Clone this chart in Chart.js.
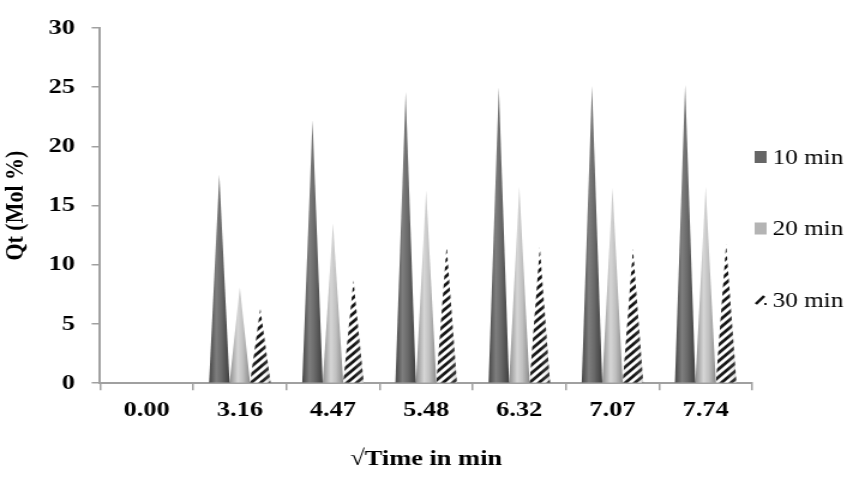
<!DOCTYPE html>
<html>
<head>
<meta charset="utf-8">
<script src="https://cdn.jsdelivr.net/npm/chart.js@4/dist/chart.umd.min.js"></script>
<style>
  html, body { margin: 0; padding: 0; background: #fff; overflow: hidden; }
  /* the original picture is stretched sideways, so the chart is drawn narrow and widened */
  #wrap { width: 711px; height: 485px; transform: scaleX(1.19972); transform-origin: 0 0; }
</style>
</head>
<body>
<div id="wrap"><canvas id="qtChart"></canvas></div>
<script>
"use strict";

// data
const categories = ['0.00', '3.16', '4.47', '5.48', '6.32', '7.07', '7.74'];
const seriesNames = ['10 min', '20 min', '30 min'];
const qt10 = [0, 17.6, 22.2, 24.6, 25.0, 25.1, 25.2];
const qt20 = [0, 8.1, 13.5, 16.3, 16.6, 16.5, 16.6];
const qt30 = [0, 6.3, 8.7, 11.6, 11.5, 11.4, 11.8];
const yTicks = [0, 5, 10, 15, 20, 25, 30];

const serif = "'Liberation Serif', 'Times New Roman', serif";

// diagonal hatch used by the 30 min series
function makeHatch() {
    let c = document.createElement('canvas');
    c.width = 8; c.height = 8;
    let g = c.getContext('2d');
    g.fillStyle = '#fff';
    g.fillRect(0, 0, 8, 8);
    g.strokeStyle = '#111';
    g.lineWidth = 2.8;
    g.beginPath();
    g.moveTo(-2, 10); g.lineTo(10, -2);
    g.moveTo(-2, 2); g.lineTo(2, -2);
    g.moveTo(6, 10); g.lineTo(10, 6);
    g.stroke();
    return g.createPattern(c, 'repeat');
}
const hatch = makeHatch();

// horizontal shading stops for each cone kind
const shades = [
    [[0, '#454545'], [0.35, '#7e7e7e'], [0.6, '#6a6a6a'], [1, '#3e3e3e']],
    [[0, '#8e8e8e'], [0.4, '#d6d6d6'], [0.65, '#c0c0c0'], [1, '#8a8a8a']],
    null
];

// draw each bar as a cone (triangle) instead of a rectangle
const conePlugin = {
    id: 'cones',
    beforeDatasetDraw(chart, args) {
        const ctx = chart.ctx;
        const idx = args.index;
        args.meta.data.forEach(el => {
            const p = el.getProps(['x', 'y', 'base', 'width'], true);
            if (Math.abs(p.base - p.y) < 0.5) return;
            const l = p.x - p.width / 2, r = p.x + p.width / 2;
            ctx.save();
            ctx.beginPath();
            ctx.moveTo(l, p.base);
            ctx.lineTo(p.x, p.y);
            ctx.lineTo(r, p.base);
            ctx.closePath();
            if (shades[idx]) {
                let grad = ctx.createLinearGradient(l, 0, r, 0);
                shades[idx].forEach(s => grad.addColorStop(s[0], s[1]));
                ctx.fillStyle = grad;
                ctx.fill();
            } else {
                ctx.fillStyle = hatch;
                ctx.fill();
                let grad = ctx.createLinearGradient(l, 0, r, 0);
                grad.addColorStop(0, 'rgba(120,120,120,0.15)');
                grad.addColorStop(0.5, 'rgba(255,255,255,0)');
                grad.addColorStop(1, 'rgba(110,110,110,0.35)');
                ctx.fillStyle = grad;
                ctx.fill();
            }
            ctx.restore();
        });
        return false;
    }
};

// legend on the right, laid out like the original
const sideLegend = {
    id: 'sideLegend',
    afterDraw(chart) {
        const ctx = chart.ctx;
        const area = chart.chartArea;
        ctx.save();
        ctx.font = "21px " + serif;
        ctx.textBaseline = 'middle';
        ctx.fillStyle = '#000';
        chart.data.datasets.forEach((ds, i) => {
            const y = area.top + 129 + i * 71.5;
            const bx = area.right + 2;
            if (i < 2) {
                ctx.fillStyle = ds.backgroundColor;
                ctx.fillRect(bx, y - 6, 10, 12);
            } else {
                ctx.strokeStyle = '#111';
                ctx.lineWidth = 2.6;
                ctx.beginPath();
                ctx.moveTo(bx + 1, y + 4);
                ctx.lineTo(bx + 8, y - 4);
                ctx.stroke();
                ctx.fillStyle = '#222';
                ctx.fillRect(bx + 8, y + 3, 2, 2);
            }
            ctx.fillStyle = '#000';
            ctx.fillText(ds.label, bx + 15, y + 1);
        });
        ctx.restore();
    }
};

let ctx = document.getElementById('qtChart');
new Chart(ctx, {
    type: 'bar',
    data: {
        labels: categories,
        datasets: [{
            label: seriesNames[0],
            data: qt10,
            backgroundColor: '#666666'
        }, {
            label: seriesNames[1],
            data: qt20,
            backgroundColor: '#b4b4b4'
        }, {
            label: seriesNames[2],
            data: qt30,
            backgroundColor: hatch
        }]
    },
    plugins: [conePlugin, sideLegend],
    options: {
        responsive: true,
        maintainAspectRatio: false,
        animation: false,
        datasets: {
            bar: { categoryPercentage: 0.66, barPercentage: 1.0 }
        },
        layout: { padding: { top: 28, right: 84, bottom: 12, left: 0 } },
        plugins: {
            tooltip: { enabled: false },
            legend: { display: false }
        },
        scales: {
            x: {
                grid: {
                    display: true,
                    drawOnChartArea: false,
                    offset: true,
                    tickLength: 7,
                    color: '#a0a0a0',
                    lineWidth: 1.5
                },
                border: { color: '#a0a0a0', width: 2 },
                ticks: {
                    padding: 7,
                    color: '#000',
                    font: { family: serif, size: 22, weight: 'bold' }
                },
                title: {
                    display: true,
                    text: '\u221ATime in min',
                    color: '#000',
                    padding: { top: 16, bottom: 0 },
                    font: { family: serif, size: 22, weight: 'bold' }
                }
            },
            y: {
                min: 0,
                max: 30,
                afterBuildTicks(axis) {
                    axis.ticks = yTicks.map(v => ({ value: v }));
                },
                grid: {
                    display: true,
                    drawOnChartArea: false,
                    tickLength: 7,
                    color: '#a0a0a0',
                    lineWidth: 1.5
                },
                border: { color: '#a0a0a0', width: 2 },
                ticks: {
                    padding: 14,
                    color: '#000',
                    font: { family: serif, size: 22, weight: 'bold' }
                },
                title: {
                    display: true,
                    text: 'Qt (Mol %)',
                    color: '#000',
                    padding: { top: 0, bottom: 0 },
                    font: { family: serif, size: 22, weight: 'bold' }
                }
            }
        }
    }
});
</script>
</body>
</html>
